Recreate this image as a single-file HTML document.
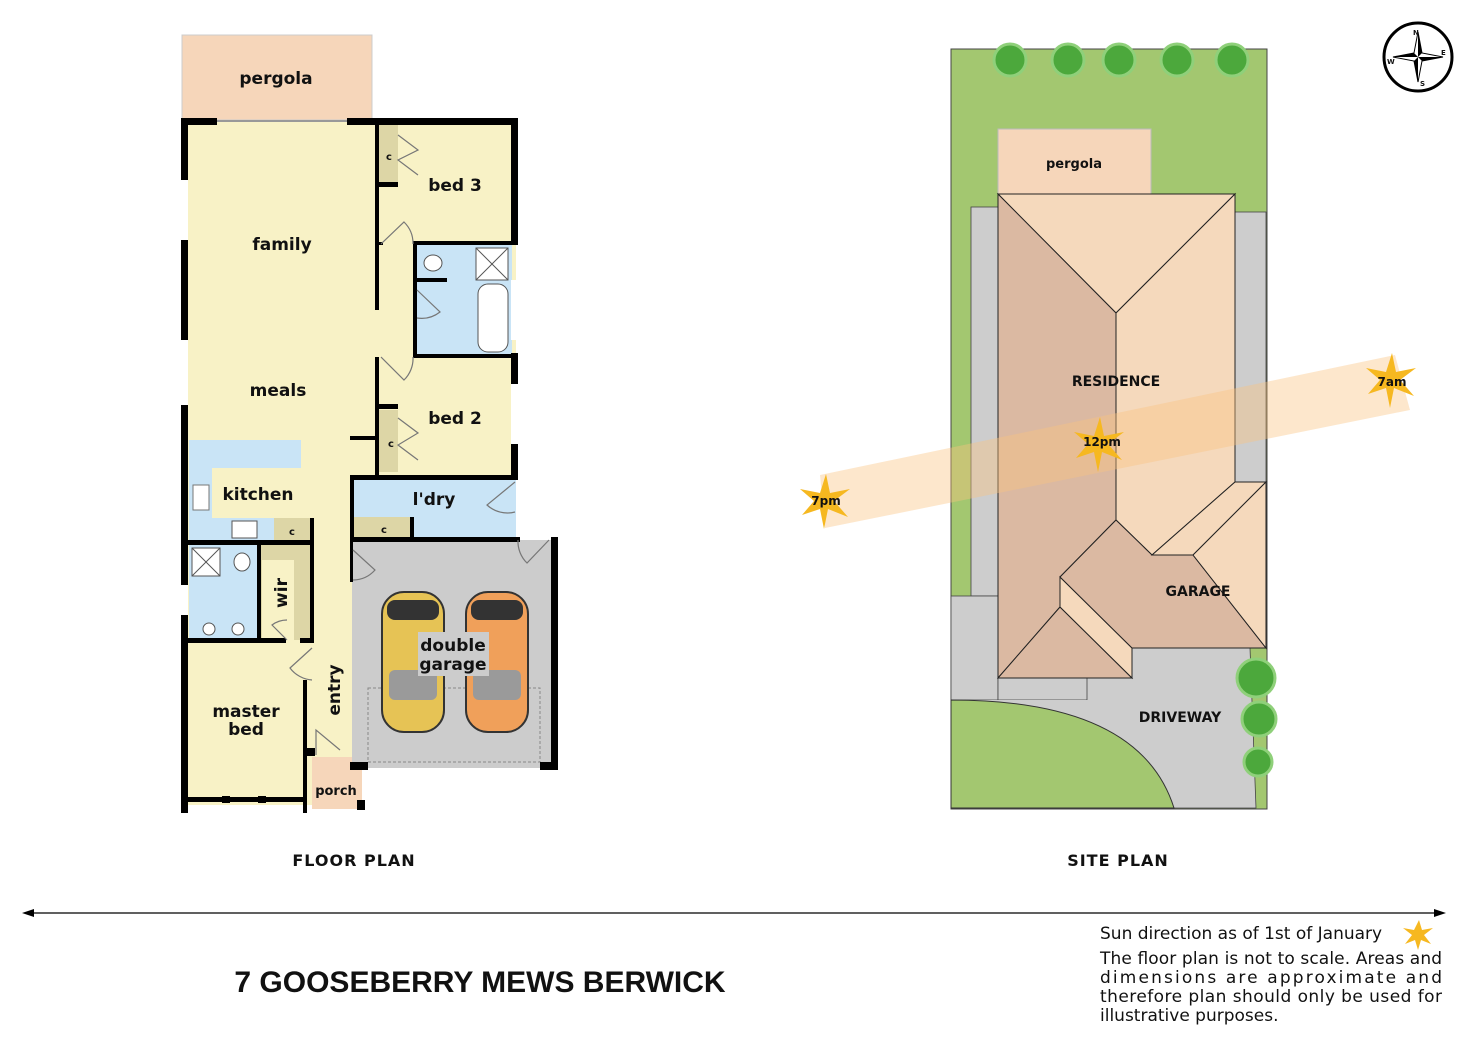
<!DOCTYPE html>
<html><head><meta charset="utf-8"><style>
html,body{margin:0;padding:0;background:#fff}
svg{display:block}
text{font-family:"DejaVu Sans","Liberation Sans",sans-serif;font-weight:bold;fill:#111}
</style></head><body>
<svg width="1472" height="1041" viewBox="0 0 1472 1041" xmlns="http://www.w3.org/2000/svg">
<!-- ===== FLOOR PLAN ===== -->
<rect x="182" y="35" width="190" height="85" fill="#f6d6ba" stroke="#ccc" stroke-width="1"/>
<text x="276" y="84" font-size="17" text-anchor="middle">pergola</text>
<!-- main cream -->
<rect x="186" y="122" width="330" height="356" fill="#f8f2c6"/>
<rect x="186" y="470" width="170" height="335" fill="#f8f2c6"/>
<!-- bath -->
<rect x="415" y="244" width="97" height="112" fill="#c9e4f6"/>
<rect x="476" y="248" width="32" height="32" fill="#fff" stroke="#555"/>
<line x1="476" y1="248" x2="508" y2="280" stroke="#555"/><line x1="508" y1="248" x2="476" y2="280" stroke="#555"/>
<rect x="478" y="284" width="30" height="68" rx="10" fill="#fff" stroke="#555"/>
<ellipse cx="433" cy="263" rx="9" ry="8" fill="#fff" stroke="#555"/>
<!-- closets -->
<rect x="378" y="125" width="20" height="60" fill="#ddd6a6"/>
<text x="389" y="160" font-size="10" text-anchor="middle">c</text>
<rect x="378" y="410" width="20" height="62" fill="#ddd6a6"/>
<text x="391" y="447" font-size="10" text-anchor="middle">c</text>
<!-- laundry -->
<rect x="352" y="480" width="164" height="58" fill="#c9e4f6"/>
<rect x="354" y="517" width="58" height="21" fill="#ddd6a6"/>
<text x="384" y="533" font-size="10" text-anchor="middle">c</text>
<!-- kitchen -->
<rect x="189" y="440" width="112" height="28" fill="#c9e4f6"/>
<rect x="189" y="468" width="23" height="72" fill="#c9e4f6"/>
<rect x="212" y="518" width="62" height="22" fill="#c9e4f6"/>
<rect x="274" y="518" width="36" height="22" fill="#ddd6a6"/>
<text x="292" y="535" font-size="10" text-anchor="middle">c</text>
<rect x="232" y="521" width="25" height="17" fill="#fff" stroke="#555"/>
<rect x="193" y="485" width="16" height="25" fill="#fff" stroke="#777"/>
<!-- ensuite & wir -->
<rect x="189" y="545" width="70" height="95" fill="#c9e4f6"/>
<rect x="192" y="548" width="28" height="28" fill="#fff" stroke="#555"/>
<line x1="192" y1="548" x2="220" y2="576" stroke="#555"/><line x1="220" y1="548" x2="192" y2="576" stroke="#555"/>
<ellipse cx="242" cy="562" rx="8" ry="9" fill="#fff" stroke="#555"/>
<circle cx="209" cy="629" r="6" fill="#fff" stroke="#555"/><circle cx="238" cy="629" r="6" fill="#fff" stroke="#555"/>
<rect x="260" y="545" width="50" height="95" fill="#ddd6a6"/>
<rect x="262" y="560" width="32" height="80" fill="#f8f2c6"/>
<text x="287" y="593" font-size="17" text-anchor="middle" transform="rotate(-90 287 593)">wir</text>
<!-- porch -->
<rect x="312" y="757" width="50" height="52" fill="#f6d6ba"/>
<!-- garage -->
<rect x="352" y="540" width="203" height="228" fill="#cccccc"/>
<rect x="368" y="688" width="172" height="74" fill="none" stroke="#888" stroke-dasharray="3,2"/>
<!-- cars -->
<g>
<rect x="382" y="592" width="62" height="140" rx="22" fill="#e6c355" stroke="#333" stroke-width="2"/>
<rect x="387" y="600" width="52" height="20" rx="8" fill="#333"/>
<rect x="389" y="670" width="48" height="30" rx="6" fill="#9a9a9a"/>
<rect x="466" y="592" width="62" height="140" rx="22" fill="#f0a05a" stroke="#333" stroke-width="2"/>
<rect x="471" y="600" width="52" height="20" rx="8" fill="#333"/>
<rect x="473" y="670" width="48" height="30" rx="6" fill="#9a9a9a"/>
</g>
<rect x="418" y="632" width="71" height="44" fill="#cccccc"/>
<text x="453" y="651" font-size="17" text-anchor="middle">double</text>
<text x="453" y="670" font-size="17" text-anchor="middle">garage</text>
<!-- walls -->
<g fill="#000">
<rect x="181" y="118" width="7" height="695"/>
<rect x="181" y="118" width="36" height="7"/>
<rect x="347" y="118" width="171" height="7"/>
<rect x="511" y="118" width="7" height="127"/>
<rect x="511" y="353" width="7" height="127"/>
<rect x="375" y="125" width="4" height="185"/>
<rect x="375" y="357" width="4" height="118"/>
<rect x="378" y="182" width="20" height="5"/>
<rect x="378" y="404" width="20" height="5"/>
<rect x="378" y="242" width="5" height="3"/>
<rect x="413" y="241" width="104" height="4"/>
<rect x="413" y="241" width="4" height="116"/>
<rect x="413" y="354" width="104" height="4"/>
<rect x="415" y="278" width="32" height="4"/>
<rect x="350" y="436" width="28" height="4"/>
<rect x="350" y="475" width="168" height="5"/>
<rect x="350" y="475" width="4" height="65"/>
<rect x="350" y="537" width="170" height="5"/>
<rect x="410" y="517" width="4" height="23"/>
<rect x="551" y="537" width="7" height="233"/>
<rect x="350" y="542" width="3" height="40"/>
<rect x="540" y="762" width="18" height="8"/>
<rect x="350" y="762" width="18" height="8"/>
<rect x="186" y="540" width="127" height="5"/>
<rect x="310" y="518" width="4" height="124"/>
<rect x="257" y="545" width="4" height="97"/>
<rect x="186" y="638" width="100" height="5"/>
<rect x="300" y="638" width="14" height="5"/>
<rect x="303" y="680" width="4" height="133"/>
<rect x="181" y="797" width="125" height="5"/>
<rect x="303" y="748" width="12" height="8"/>
<rect x="357" y="800" width="8" height="10"/>
<rect x="181" y="483" width="7" height="40"/>
</g>
<!-- windows (gaps) -->
<g fill="#fff">
<rect x="181" y="180" width="7" height="60"/><rect x="181" y="340" width="7" height="65"/>
<rect x="181" y="585" width="7" height="30"/>
<rect x="511" y="280" width="7" height="60"/><rect x="511" y="384" width="7" height="60"/>
<rect x="222" y="796" width="8" height="7" fill="#000"/><rect x="258" y="796" width="8" height="7" fill="#000"/>
</g>
<line x1="217" y1="121" x2="347" y2="121" stroke="#999" stroke-width="2"/>
<!-- doors -->
<g fill="none" stroke="#777" stroke-width="1.2">
<path d="M381 244 L404 222 A30 30 0 0 1 413 244"/>
<path d="M381 357 L404 380 A30 30 0 0 0 413 357"/>
<path d="M398 135 L418 150 L398 160 L418 175"/>
<path d="M398 418 L418 433 L398 445 L418 460"/>
<path d="M417 290 L440 312 A30 30 0 0 1 417 318"/>
<path d="M515 482 L487 505 A30 30 0 0 0 515 512"/>
<path d="M353 550 L375 570 A30 30 0 0 1 353 580"/>
<path d="M549 540 L527 563 A30 30 0 0 1 518 540"/>
<path d="M312 648 L290 668 A30 30 0 0 0 312 680"/>
<path d="M287 640 L272 625 A25 25 0 0 1 287 620"/>
<path d="M316 755 L316 730 L340 750"/>
</g>
<text x="282" y="250" font-size="17" text-anchor="middle">family</text>
<text x="455" y="191" font-size="17" text-anchor="middle">bed 3</text>
<text x="278" y="396" font-size="17" text-anchor="middle">meals</text>
<text x="455" y="424" font-size="17" text-anchor="middle">bed 2</text>
<text x="258" y="500" font-size="17" text-anchor="middle">kitchen</text>
<text x="434" y="505" font-size="17" text-anchor="middle">l'dry</text>
<text x="246" y="717" font-size="17" text-anchor="middle">master</text>
<text x="246" y="735" font-size="17" text-anchor="middle">bed</text>
<text x="340" y="690" font-size="17" text-anchor="middle" transform="rotate(-90 340 690)">entry</text>
<text x="336" y="795" font-size="13" text-anchor="middle">porch</text>
<text x="354" y="866" font-size="16" text-anchor="middle" letter-spacing="1">FLOOR PLAN</text>

<!-- ===== SITE PLAN ===== -->
<rect x="951" y="49" width="316" height="760" fill="#a3c770" stroke="#444"/>
<rect x="971" y="207" width="27" height="389" fill="#cdcdcd" stroke="#444" stroke-width="0.8"/>
<rect x="1235" y="212" width="31" height="270" fill="#cdcdcd" stroke="#444" stroke-width="0.8"/>
<rect x="951" y="596" width="47" height="104" fill="#cdcdcd" stroke="#444" stroke-width="0.8"/>
<rect x="998" y="678" width="90" height="22" fill="#cdcdcd" stroke="#444" stroke-width="0.8"/>
<path d="M1087 648 L1250 648 L1256 808 L1087 808 Z" fill="#cdcdcd" stroke="#444" stroke-width="0.8"/>
<rect x="951" y="700" width="140" height="108" fill="#cdcdcd"/>
<path d="M951 700 Q1140 700 1174 808 L951 808 Z" fill="#a3c770" stroke="#333"/>
<rect x="998" y="129" width="153" height="66" fill="#f6d6ba" stroke="#bbb"/>
<text x="1074" y="168" font-size="13" text-anchor="middle">pergola</text>
<g stroke="#222" stroke-width="1">
<polygon points="998,194 1235,194 1116,313" fill="#f5d9bc"/>
<polygon points="1116,313 1235,194 1235,482 1152,555 1116,520" fill="#f5d9bc"/>
<polygon points="998,194 1116,313 1116,520 1060,577 1060,607 998,678" fill="#dbb9a2"/>
<polygon points="1060,607 998,678 1132,678" fill="#dbb9a2"/>
<polygon points="1060,577 1060,607 1132,678 1132,648" fill="#f5d9bc"/>
<polygon points="1060,577 1116,520 1152,555 1193,555 1266,648 1132,648" fill="#dbb9a2"/>
<polygon points="1152,555 1235,482 1266,482 1193,555" fill="#f5d9bc"/>
<polygon points="1193,555 1266,482 1266,648" fill="#f5d9bc"/>
</g>
<!-- sun band -->
<polygon points="820,475 1395,355 1410,410 825,528" fill="#fbc480" opacity="0.4"/>
<g fill="#f6b820">
<polygon points="1392,353 1396,372 1416,368 1400,380 1414,396 1394,388 1390,408 1386,388 1368,394 1380,380 1366,368 1386,372"/>
<polygon points="1100,417 1104,436 1124,432 1108,444 1122,460 1102,452 1098,472 1094,452 1076,458 1088,444 1074,432 1094,436"/>
<polygon points="826,474 830,493 850,489 834,501 848,517 828,509 824,529 820,509 802,515 814,501 800,489 820,493"/>
</g>
<text x="1392" y="386" font-size="12" text-anchor="middle" fill="#333">7am</text>
<text x="1102" y="446" font-size="12" text-anchor="middle">12pm</text>
<text x="826" y="505" font-size="12" text-anchor="middle">7pm</text>
<text x="1116" y="386" font-size="14" text-anchor="middle">RESIDENCE</text>
<text x="1198" y="596" font-size="14" text-anchor="middle">GARAGE</text>
<text x="1180" y="722" font-size="14" text-anchor="middle">DRIVEWAY</text>
<!-- trees -->
<g fill="#4ca83c" stroke="#8fd07a" stroke-width="3">
<circle cx="1010" cy="60" r="16"/><circle cx="1068" cy="60" r="16"/><circle cx="1119" cy="60" r="16"/>
<circle cx="1177" cy="60" r="16"/><circle cx="1232" cy="60" r="16"/>
<circle cx="1256" cy="678" r="19"/><circle cx="1259" cy="719" r="17"/><circle cx="1258" cy="762" r="14"/>
</g>
<text x="1118" y="866" font-size="16" text-anchor="middle" letter-spacing="1">SITE PLAN</text>
<!-- compass -->
<circle cx="1418" cy="57" r="34" fill="#fff" stroke="#000" stroke-width="3"/>
<polygon points="1418,32 1422,53 1443,57 1422,61 1418,82 1414,61 1393,57 1414,53" fill="#fff" stroke="#000"/>
<polygon points="1418,32 1422,53 1418,57" fill="#000"/><polygon points="1443,57 1422,61 1418,57" fill="#000"/>
<polygon points="1418,82 1414,61 1418,57" fill="#000"/><polygon points="1393,57 1414,53 1418,57" fill="#000"/>
<text x="1413" y="35" font-size="7">N</text><text x="1441" y="55" font-size="7">E</text>
<text x="1420" y="86" font-size="7">S</text><text x="1387" y="64" font-size="7">W</text>

<!-- bottom -->
<line x1="28" y1="913" x2="1440" y2="913" stroke="#000" stroke-width="1.2"/>
<polygon points="22,913 34,909 34,917"/><polygon points="1446,913 1434,909 1434,917"/>
<text x="480" y="992" font-size="30" text-anchor="middle" style="font-family:'Liberation Sans',sans-serif">7 GOOSEBERRY MEWS BERWICK</text>
<g style="font-weight:normal">
<text x="1100" y="939" font-size="17" style="font-weight:normal">Sun direction as of 1st of January</text>
<text x="1100" y="964" font-size="17" style="font-weight:normal" textLength="342">The floor plan is not to scale. Areas and</text>
<text x="1100" y="983" font-size="17" style="font-weight:normal" textLength="342">dimensions are approximate and</text>
<text x="1100" y="1002" font-size="17" style="font-weight:normal" textLength="342">therefore plan should only be used for</text>
<text x="1100" y="1021" font-size="17" style="font-weight:normal">illustrative purposes.</text>
</g>
<polygon points="1419,920 1422,930 1433,928 1424,935 1431,944 1421,940 1418,950 1415,940 1405,944 1412,935 1403,928 1414,930" fill="#f6b820"/>
</svg>
</body></html>
